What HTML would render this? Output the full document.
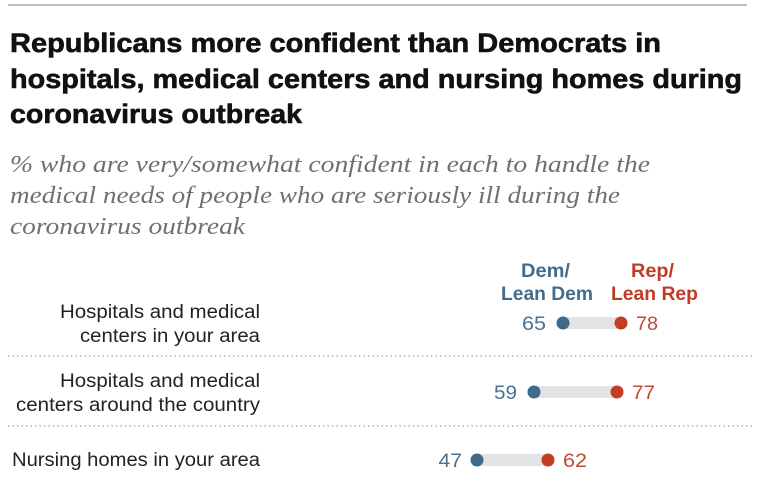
<!DOCTYPE html>
<html>
<head>
<meta charset="utf-8">
<style>
  html, body { margin: 0; padding: 0; background: #ffffff; }
  svg { display: block; }
</style>
</head>
<body>
<svg width="757" height="480" viewBox="0 0 757 480" xmlns="http://www.w3.org/2000/svg">
  <rect x="0" y="0" width="757" height="480" fill="#ffffff"/>
  <!-- top rule -->
  <rect x="8" y="4" width="739" height="2" fill="#bdbdbd"/>

  <!-- title -->
  <g font-family="'Liberation Sans', Arial, sans-serif" font-weight="bold" font-size="27" fill="#111111" stroke="#111111" stroke-width="0.6">
    <text x="10" y="52" textLength="651" lengthAdjust="spacingAndGlyphs">Republicans more confident than Democrats in</text>
    <text x="10" y="88" textLength="732" lengthAdjust="spacingAndGlyphs">hospitals, medical centers and nursing homes during</text>
    <text x="10" y="123" textLength="292" lengthAdjust="spacingAndGlyphs">coronavirus outbreak</text>
  </g>

  <!-- subtitle -->
  <g font-family="'Liberation Serif', Georgia, serif" font-style="italic" font-size="24.5" fill="#707070">
    <text x="10" y="172" textLength="640" lengthAdjust="spacingAndGlyphs">% who are very/somewhat confident in each to handle the</text>
    <text x="10" y="203" textLength="610" lengthAdjust="spacingAndGlyphs">medical needs of people who are seriously ill during the</text>
    <text x="10" y="234" textLength="235" lengthAdjust="spacingAndGlyphs">coronavirus outbreak</text>
  </g>

  <!-- column headers -->
  <g font-family="'Liberation Sans', Arial, sans-serif" font-weight="bold" font-size="19">
    <text x="521" y="277" textLength="49" lengthAdjust="spacingAndGlyphs" fill="#436b8b">Dem/</text>
    <text x="501" y="300" textLength="92" lengthAdjust="spacingAndGlyphs" fill="#436b8b">Lean Dem</text>
    <text x="631" y="277" textLength="43" lengthAdjust="spacingAndGlyphs" fill="#c03b27">Rep/</text>
    <text x="611" y="300" textLength="87" lengthAdjust="spacingAndGlyphs" fill="#c03b27">Lean Rep</text>
  </g>

  <!-- row labels -->
  <g font-family="'Liberation Sans', Arial, sans-serif" font-size="19" fill="#222222">
    <text x="60" y="318" textLength="200" lengthAdjust="spacingAndGlyphs">Hospitals and medical</text>
    <text x="80" y="342" textLength="180" lengthAdjust="spacingAndGlyphs">centers in your area</text>
    <text x="60" y="387" textLength="200" lengthAdjust="spacingAndGlyphs">Hospitals and medical</text>
    <text x="16" y="411" textLength="244" lengthAdjust="spacingAndGlyphs">centers around the country</text>
    <text x="12" y="466" textLength="248" lengthAdjust="spacingAndGlyphs">Nursing homes in your area</text>
  </g>

  <!-- dotted separators -->
  <g stroke="#9a9a9a" stroke-width="1.3" stroke-dasharray="1.3 3.2" fill="none">
    <line x1="8" y1="356" x2="752" y2="356"/>
    <line x1="8" y1="426" x2="752" y2="426"/>
  </g>

  <!-- bars -->
  <g fill="#e3e4e6">
    <rect x="563" y="317" width="58" height="12"/>
    <rect x="534" y="386" width="83" height="12"/>
    <rect x="477" y="454" width="71" height="12"/>
  </g>

  <!-- dots -->
  <g>
    <circle cx="563" cy="323" r="6.5" fill="#3f6a8a"/>
    <circle cx="621" cy="323" r="6.5" fill="#c63b24"/>
    <circle cx="534" cy="392" r="6.5" fill="#3f6a8a"/>
    <circle cx="617" cy="392" r="6.5" fill="#c63b24"/>
    <circle cx="477" cy="460" r="6.5" fill="#3f6a8a"/>
    <circle cx="548" cy="460" r="6.5" fill="#c63b24"/>
  </g>

  <!-- values -->
  <g font-family="'Liberation Sans', Arial, sans-serif" font-size="19">
    <text x="522" y="330" textLength="24" lengthAdjust="spacingAndGlyphs" fill="#4a7192">65</text>
    <text x="636" y="330" textLength="22" lengthAdjust="spacingAndGlyphs" fill="#c04a36">78</text>
    <text x="494" y="399" textLength="23" lengthAdjust="spacingAndGlyphs" fill="#4a7192">59</text>
    <text x="632" y="399" textLength="23" lengthAdjust="spacingAndGlyphs" fill="#c04a36">77</text>
    <text x="438.5" y="467" textLength="23.5" lengthAdjust="spacingAndGlyphs" fill="#4a7192">47</text>
    <text x="563" y="467" textLength="24" lengthAdjust="spacingAndGlyphs" fill="#c04a36">62</text>
  </g>
</svg>
</body>
</html>
